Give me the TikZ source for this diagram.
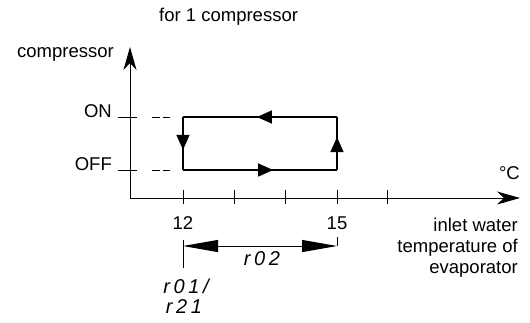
\documentclass[tikz,border=0pt]{standalone}
\usepackage{fontspec}
\setmainfont{Liberation Sans}
\newfontfamily\segfont[LetterSpace=18]{Liberation Sans}
\usetikzlibrary{arrows.meta,decorations.markings}
\begin{document}
\begin{tikzpicture}[x=1pt,y=-1pt,
  lbl/.style={inner sep=0pt, font=\fontsize{18.5}{21}\selectfont},
  seg/.style={inner sep=0pt, font=\fontsize{20}{22}\segfont\itshape},
  axisline/.style={line width=1pt, -{Stealth[length=23pt,width=13pt,inset=7pt]}},
  thin/.style={line width=1pt},
  cyc/.style={line width=1.5pt},
  dashline/.style={line width=1pt, dash pattern=on 8pt off 3pt},
  midarrow/.style={postaction={decorate}, decoration={markings,
     mark=at position #1 with {\arrow{Triangle[length=15pt,width=13pt]}}}},
  dimarrow/.style={line width=1pt, {Triangle[length=35pt,width=12pt]}-{Triangle[length=35pt,width=12pt]}}
]
\useasboundingbox (0,0) rectangle (530,322);

% coordinates
\coordinate (O) at (130,198);
\coordinate (Ytip) at (130,47);
\coordinate (Xtip) at (520,198);
\coordinate (TL) at (183,117);
\coordinate (TR) at (337,117);
\coordinate (BL) at (183,170);
\coordinate (BR) at (337,170);

% axes
\draw[axisline] (O) -- (Ytip);
\draw[axisline] (O) -- (Xtip);

% y ticks
\coordinate (onA) at (118,117); \coordinate (onB) at (137,117);
\coordinate (offA) at (118,170); \coordinate (offB) at (137,170);
\draw[thin] (onA) -- (onB);
\draw[thin] (offA) -- (offB);
\coordinate (onD1) at (152,117); \coordinate (onD2) at (170,117);
\coordinate (offD1) at (152,170); \coordinate (offD2) at (170,170);
\draw[dashline] (onD1) -- (onD2);
\draw[dashline] (offD1) -- (offD2);

% x ticks
\foreach \x/\n in {183/a,234/b,285/c,337/d,387/e}{
  \coordinate (t\n1) at (\x,190);
  \coordinate (t\n2) at (\x,204);
  \draw[thin] (t\n1) -- (t\n2);
}

% hysteresis box
\draw[cyc, midarrow=0.52] (TR) -- (TL);
\draw[cyc, midarrow=0.62] (TL) -- (BL);
\draw[cyc, midarrow=0.585] (BL) -- (BR);
\draw[cyc, midarrow=0.62] (BR) -- (TR);

% dimension
\coordinate (d12a) at (183,240); \coordinate (d12b) at (183,268);
\coordinate (d15a) at (337,237); \coordinate (d15b) at (337,246);
\coordinate (dL) at (183,246); \coordinate (dR) at (337,246);
\draw[thin] (d12a) -- (d12b);
\draw[thin] (d15a) -- (d15b);
\draw[dimarrow] (dL) -- (dR);

% texts
\node[lbl, anchor=base west] (title) at (159,21) {for 1 compressor};
\node[lbl, anchor=base west] (ylab) at (17,57) {compressor};
\node[lbl, anchor=base east] (on) at (112,117) {ON};
\node[lbl, anchor=base east] (off) at (112,170) {OFF};
\node[lbl, anchor=base east] (degc) at (520,179) {°C};
\node[lbl, anchor=base] (n12) at (183,229) {12};
\node[lbl, anchor=base] (n15) at (337,229) {15};
\node[lbl, anchor=base east] (x1) at (518,231) {inlet water};
\node[lbl, anchor=base east] (x2) at (518,252) {temperature of};
\node[lbl, anchor=base east] (x3) at (518,273) {evaporator};
\node[seg] (r02) at (262,259) {r02};
\node[seg] (r01) at (186,286) {r01/};
\node[seg] (r21) at (184,307) {r21};
\end{tikzpicture}
\end{document}
